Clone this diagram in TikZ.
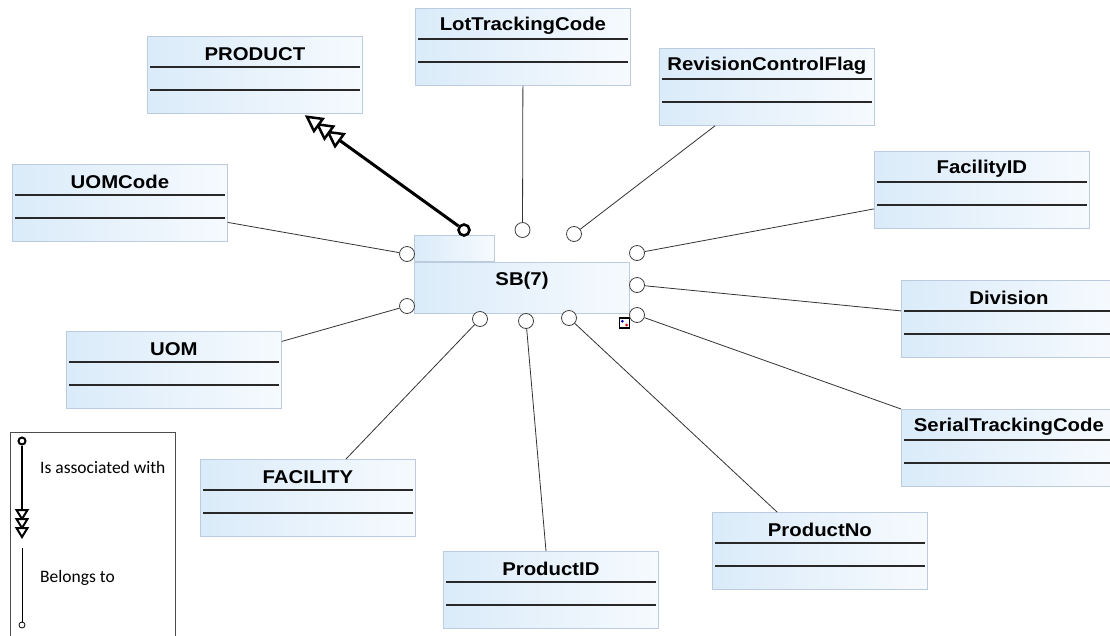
\documentclass[tikz,border=0pt]{standalone}
\usepackage{fontspec}
\setmainfont{Liberation Sans}
\newfontfamily\tfont[FakeStretch=1.1]{Liberation Sans}
\newfontfamily\lfont{Carlito}
\usetikzlibrary{calc}
\definecolor{boxL}{RGB}{218,235,249}
\definecolor{boxR}{RGB}{246,250,254}
\definecolor{boxD}{RGB}{188,204,222}
\definecolor{sepc}{RGB}{40,40,40}
\tikzset{
  cls/.style={draw=boxD, line width=0.8, left color=boxL, right color=boxR,
    minimum width=215, minimum height=77, inner sep=0, anchor=north west},
  ttl/.style={font=\tfont\bfseries\fontsize{18.5}{20}\selectfont, inner sep=0},
  sepline/.style={draw=sepc, line width=1.3},
  port/.style={circle, draw=black!75, fill=white, line width=0.8, minimum size=15, inner sep=0},
  conn/.style={draw=black!80, line width=0.8},
  tri/.style={draw=black, fill=white, line join=miter},
  ltxt/.style={font=\lfont\fontsize{17.5}{20}\selectfont, anchor=west, inner sep=0}
}
\newcommand\classbox[4]{%
  \node[cls] (#1) at (#2,#3) {};
  \node[ttl] (#1-t) at ($(#1.north)+(0,18)$) {#4};
  \draw[sepline] ($(#1.north west)+(3,31)$) -- ($(#1.north east)+(-3,31)$);
  \draw[sepline] ($(#1.north west)+(3,54)$) -- ($(#1.north east)+(-3,54)$);
}
% open triangle: #1 name, #2 tip, #3 point it comes from, #4 length, #5 half width, #6 line width
\newcommand\opentri[6]{%
  \coordinate (#1b) at ($(#2)!#4!(#3)$);
  \draw[tri, line width=#6] (#2) -- ($(#1b)!#5!90:(#3)$) -- ($(#1b)!#5!-90:(#3)$) -- cycle;
}
\begin{document}
\begin{tikzpicture}[x=1pt,y=-1pt]
\useasboundingbox[fill=white] (0,0) rectangle (1110,635);

% class boxes
\classbox{product}{147}{36}{PRODUCT}
\classbox{lot}{415}{8}{LotTrackingCode}
\classbox{rev}{659}{48}{RevisionControlFlag}
\classbox{fid}{874}{151}{FacilityID}
\classbox{uomc}{12}{164}{UOMCode}
\classbox{div}{901}{280}{Division}
\classbox{uom}{66}{331}{UOM}
\classbox{stc}{901}{409}{SerialTrackingCode}
\classbox{fac}{200}{459}{FACILITY}
\classbox{pid}{443}{551}{ProductID}
\classbox{pno}{712}{512}{ProductNo}

% central class
\node[cls, minimum width=215, minimum height=51] (sb) at (414,262) {};
\node[cls, minimum width=80, minimum height=26, anchor=south west] (sbtab) at (414,262) {};
\node[ttl] (sbt) at (522,281) {SB(7)};

% small marker square
\node[draw=black, line width=1.3, fill=white, minimum size=10, inner sep=0] (sq) at (624.5,323) {};
\fill[blue!70!black] (622.3,321.3) circle (1.5);
\fill[red!85!black] (626.5,325) circle (1.5);

% ports and connectors
\node[port] (pL1) at (407,254) {};
\node[port] (pL2) at (407,306) {};
\node[port] (pT1) at (522.5,230) {};
\node[port] (pT2) at (574,234) {};
\node[port] (pR1) at (637,253) {};
\node[port] (pR2) at (637,285) {};
\node[port] (pR3) at (637,315) {};
\node[port] (pB1) at (480,319) {};
\node[port] (pB2) at (526,321) {};
\node[port] (pB3) at (569,318) {};

\draw[conn] (pL1) -- ($(uomc.east)+(0,19.5)$);
\draw[conn] (pL2) -- ($(uom.east)+(0,-28.5)$);
\draw[conn] (pT1) -- (lot.south);
\draw[conn] (pT2) -- ($(rev.south west)+(56,0)$);
\draw[conn] (pR1) -- ($(fid.west)+(0,19)$);
\draw[conn] (pR2) -- ($(div.west)+(0,-8)$);
\draw[conn] (pR3) -- (stc.north west);
\draw[conn] (pB1) -- ($(fac.north west)+(146,0)$);
\draw[conn] (pB2) -- ($(pid.north west)+(103,0)$);
\draw[conn] (pB3) -- ($(pno.north west)+(65,0)$);

% association to PRODUCT
\node[circle, draw=black, line width=2.6, fill=white, minimum size=11, inner sep=0] (aStart) at (464,230) {};
\coordinate (aEnd) at ($(product.south west)+(160,3)$);
\coordinate (aLineEnd) at ($(aEnd)!40pt!(aStart)$);
\draw[line width=3] (aStart) -- (aLineEnd);
\coordinate (aT2) at ($(aEnd)!13pt!(aStart)$);
\coordinate (aT3) at ($(aEnd)!26pt!(aStart)$);
\opentri{aA}{aT3}{aStart}{14pt}{7.5pt}{2.5}
\opentri{aB}{aT2}{aStart}{14pt}{7.5pt}{2.5}
\opentri{aC}{aEnd}{aStart}{14pt}{7.5pt}{2.5}

% legend
\draw[black!70, line width=0.8] (10,645) -- (10,432) -- (175,432) -- (175,645);
\node[circle, draw=black, line width=2, fill=white, minimum size=7, inner sep=0] (lgA) at (22,441) {};
\coordinate (lgAe) at (22,537);
\coordinate (lgAl) at (22,510);
\draw[line width=2.2] (lgA) -- (lgAl);
\coordinate (lgT2c) at (22,528);
\coordinate (lgT3c) at (22,519);
\opentri{lA}{lgT3c}{lgA}{9pt}{5.5pt}{2}
\opentri{lB}{lgT2c}{lgA}{9pt}{5.5pt}{2}
\opentri{lC}{lgAe}{lgA}{9pt}{5.5pt}{2}
\coordinate (lgBs) at (22,548);
\node[circle, draw=black, line width=0.8, fill=white, minimum size=6, inner sep=0] (lgB) at (22,625) {};
\draw[conn, black] (lgBs) -- (lgB);
\node[ltxt] (lgT1) at (40,467) {Is associated with};
\node[ltxt] (lgT2) at (40,578) {Belongs to};
\end{tikzpicture}
\end{document}
